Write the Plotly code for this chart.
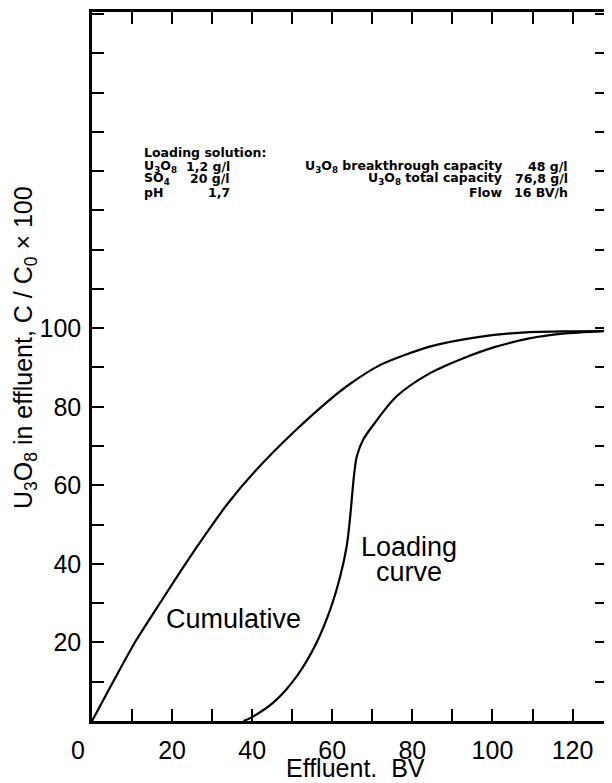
import plotly.graph_objects as go

# ---- data ----
cum_x = [0, 4.8, 10.7, 17.6, 23, 28, 34, 41, 50, 59.5, 64.4, 71.9, 84.3, 96.8, 109.2, 120, 128.6]
cum_y = [0, 9.1, 20, 31, 39.5, 47, 55.5, 63.9, 73.2, 81.9, 85.8, 90.6, 95.3, 97.8, 99.0, 99.2, 99.3]

load_x = [37.8, 39.6, 45.4, 51.2, 56.1, 59.5, 62.0, 63.6, 64.4, 65.0, 65.4, 66.1, 67.7, 70.2, 76.0, 84.3, 92.6, 100.9, 109.2, 117.5, 128.6]
load_y = [0, 0.8, 4.8, 11.5, 20.0, 28.4, 36.9, 44.5, 51.3, 58.0, 62.3, 67.3, 71.6, 75.3, 82.6, 88.5, 92.3, 95.3, 97.4, 98.6, 99.3]

x_tickvals = [20, 40, 60, 80, 100, 120]
x_ticktext = ["20", "40", "60", "80", "100", "120"]
y_tickvals = [20, 40, 60, 80, 100]
y_ticktext = ["20", "40", "60", "80", "100"]

# page body adds an 8px margin; work in screen pixels and convert
OFF = 8
W, H = 612 - OFF, 783 - OFF
SL, SR, ST, SB = 92, 607, 12, 721          # plot area edges in screen pixels
L, R, T, B = SL - OFF, SR - OFF, ST - OFF, SB - OFF


def px(xs):
    return (xs - SL) / (SR - SL)


def py(ys):
    return (SB - ys) / (SB - ST)


fig = go.Figure()
fig.add_trace(go.Scatter(x=cum_x, y=cum_y, mode="lines",
                         line=dict(color="black", width=2.2, shape="spline", smoothing=0.7),
                         showlegend=False, hoverinfo="skip"))
fig.add_trace(go.Scatter(x=load_x, y=load_y, mode="lines",
                         line=dict(color="black", width=2.2, shape="spline", smoothing=0.8),
                         showlegend=False, hoverinfo="skip"))

big = dict(family="Liberation Sans, Arial, sans-serif", size=25, color="black")
lab = dict(family="Liberation Sans, Arial, sans-serif", size=27, color="black")
small = dict(family="DejaVu Sans, sans-serif", size=12.5, color="black")

ann = []
ann.append(dict(text="U<sub>3</sub>O<sub>8</sub> in effluent, C / C<sub>0</sub> × 100", textangle=-90,
                x=px(25), y=py(348), xref="paper", yref="paper", showarrow=False, font=big,
                xanchor="center", yanchor="middle"))
ann.append(dict(text="Effluent.\u00a0 BV", x=px(355), y=py(768), xref="paper", yref="paper", showarrow=False,
                font=big, xanchor="center", yanchor="middle"))
ann.append(dict(text="0", x=px(78), y=py(750), xref="paper", yref="paper", showarrow=False,
                font=big, xanchor="center", yanchor="middle"))
ann.append(dict(text="Cumulative", x=px(233), y=py(619), xref="paper", yref="paper", showarrow=False,
                font=lab, xanchor="center", yanchor="middle"))
ann.append(dict(text="Loading", x=px(409), y=py(547), xref="paper", yref="paper", showarrow=False,
                font=lab, xanchor="center", yanchor="middle"))
ann.append(dict(text="curve", x=px(409), y=py(572), xref="paper", yref="paper", showarrow=False,
                font=lab, xanchor="center", yanchor="middle"))

rows = [152.5, 166, 179, 192]
left_labels = ["Loading solution:", "U<sub>3</sub>O<sub>8</sub>", "SO<sub>4</sub>", "pH"]
left_values = ["", "1,2 g/l", "20 g/l", "1,7"]
for r, t, v in zip(rows, left_labels, left_values):
    ann.append(dict(text="<b>%s</b>" % t, x=px(142), y=py(r), xref="paper", yref="paper", showarrow=False,
                    font=small, xanchor="left", yanchor="middle"))
    if v:
        ann.append(dict(text="<b>%s</b>" % v, x=px(232), y=py(r), xref="paper", yref="paper", showarrow=False,
                        font=small, xanchor="right", yanchor="middle"))

right_labels = ["U<sub>3</sub>O<sub>8</sub> breakthrough capacity", "U<sub>3</sub>O<sub>8</sub> total capacity", "Flow"]
right_values = ["48 g/l", "76,8 g/l", "16 BV/h"]
for r, t, v in zip(rows[1:], right_labels, right_values):
    ann.append(dict(text="<b>%s</b>" % t, x=px(504), y=py(r), xref="paper", yref="paper", showarrow=False,
                    font=small, xanchor="right", yanchor="middle"))
    ann.append(dict(text="<b>%s</b>" % v, x=px(570), y=py(r), xref="paper", yref="paper", showarrow=False,
                    font=small, xanchor="right", yanchor="middle"))

axis_common = dict(showline=True, linecolor="black", linewidth=2.5, mirror="allticks", ticks="inside",
                   ticklen=12, tickwidth=1.5, tickcolor="black", showgrid=False, zeroline=False,
                   tickfont=big, automargin=False,
                   minor=dict(ticks="inside", ticklen=12, tickwidth=1.5, tickcolor="black",
                              tick0=0, dtick=10, showgrid=False))

fig.update_layout(
    width=W, height=H,
    margin=dict(l=L, r=W - R, t=T, b=H - B, pad=0),
    paper_bgcolor="white", plot_bgcolor="white",
    xaxis=dict(range=[0, 128.6], tickmode="array", tickvals=x_tickvals, ticktext=x_ticktext,
               ticklabelstandoff=5, **axis_common),
    yaxis=dict(range=[0, 180.5], tickmode="array", tickvals=y_tickvals, ticktext=y_ticktext,
               ticklabelstandoff=3, **axis_common),
    annotations=ann,
)

fig.write_html("out.html")
